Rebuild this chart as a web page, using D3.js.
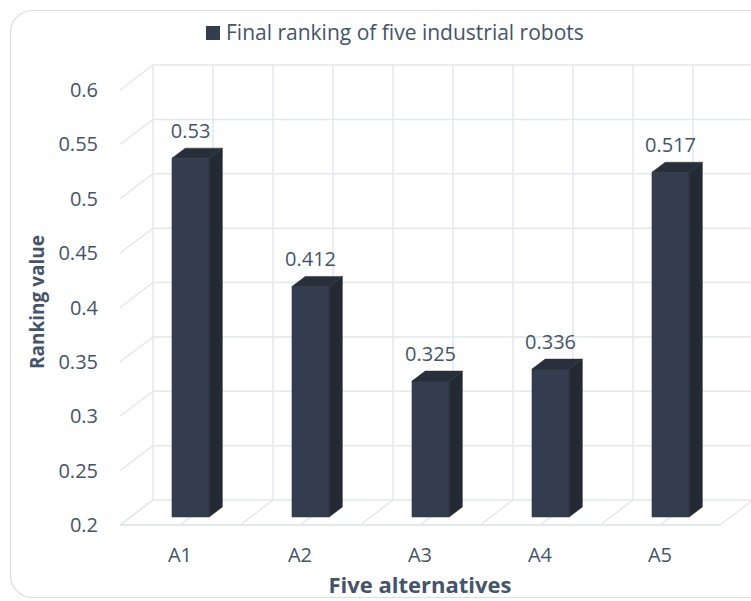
<!DOCTYPE html>
<html>
<head>
<meta charset="utf-8">
<script src="https://cdn.jsdelivr.net/npm/d3@7"></script>
<style>
  body { margin: 0; background: #fff; }
  text { font-family: "Open Sans", sans-serif; fill: #44546a; }
</style>
</head>
<body>
<div id="chart"></div>
<script>
"use strict";

const categories = ["A1", "A2", "A3", "A4", "A5"];
const values = [0.53, 0.412, 0.325, 0.336, 0.517];
const labels = ["0.53", "0.412", "0.325", "0.336", "0.517"];
const yTicks = [0.2, 0.25, 0.3, 0.35, 0.4, 0.45, 0.5, 0.55, 0.6];
const yTickLabels = ["0.2", "0.25", "0.3", "0.35", "0.4", "0.45", "0.5", "0.55", "0.6"];

const W = 751, H = 601;
const svg = d3.select("#chart").append("svg").attr("width", W).attr("height", H);

// outer frame
svg.append("rect").attr("x", 10.5).attr("y", 10.5).attr("width", W + 20).attr("height", 587)
  .attr("rx", 22).attr("fill", "#fff").attr("stroke", "#d9dde3").attr("stroke-width", 1.2);

// front plane scales, depth is added as an offset
const x = d3.scaleBand().domain(categories).range([120, 720]);
const y = d3.scaleLinear().domain([0.2, 0.6]).range([525, 90]);
const DX = 33, DY = -25;
const proj = (px, v, d) => [px + d * DX, y(v) + d * DY];

const grid = "#e4e7eb";
const g = svg.append("g");

// back wall horizontal gridlines + left wall diagonals
yTicks.forEach(t => {
  const a = proj(120, t, 0), b = proj(120, t, 1), c = proj(W + 10, t, 1);
  g.append("path").attr("d", "M" + a + "L" + b + "L" + c)
    .attr("fill", "none").attr("stroke", grid).attr("stroke-width", 1.5);
});

// back wall verticals and floor diagonals every half category
const step = x.bandwidth() / 2;
for (let k = 0; k <= categories.length * 2; k++) {
  const px = x.range()[0] + k * step;
  const top = proj(px, 0.6, 1), bot = proj(px, 0.2, 1), fr = proj(px, 0.2, 0);
  g.append("line").attr("x1", top[0]).attr("y1", top[1]).attr("x2", bot[0]).attr("y2", bot[1])
    .attr("stroke", grid).attr("stroke-width", 1.5);
  g.append("line").attr("x1", fr[0]).attr("y1", fr[1]).attr("x2", bot[0]).attr("y2", bot[1])
    .attr("stroke", grid).attr("stroke-width", 1.5);
}
// front floor edge
g.append("line").attr("x1", 120).attr("y1", y(0.2)).attr("x2", 720).attr("y2", y(0.2))
  .attr("stroke", grid).attr("stroke-width", 2);

// 3D bars
const d0 = 0.32, d1 = 0.72, bw = x.bandwidth() * 0.31;
const bars = svg.append("g");
categories.forEach((c, i) => {
  const cx = x(c) + x.bandwidth() / 2;
  const l = cx - bw / 2, r = cx + bw / 2, v = values[i];
  const poly = pts => pts.map(p => p.join(",")).join(" ");
  // front
  bars.append("polygon").attr("fill", "#333d4f").attr("stroke", "#2b3443").attr("stroke-width", 0.5)
    .attr("points", poly([proj(l, 0.2, d0), proj(r, 0.2, d0), proj(r, v, d0), proj(l, v, d0)]));
  // side
  bars.append("polygon").attr("fill", "#232a34").attr("stroke", "#232a34").attr("stroke-width", 0.5)
    .attr("points", poly([proj(r, 0.2, d0), proj(r, 0.2, d1), proj(r, v, d1), proj(r, v, d0)]));
  // top
  bars.append("polygon").attr("fill", "#282f3b").attr("stroke", "#282f3b").attr("stroke-width", 0.5)
    .attr("points", poly([proj(l, v, d0), proj(r, v, d0), proj(r, v, d1), proj(l, v, d1)]));
  // value label
  const lp = proj(cx, v, d0);
  svg.append("text").attr("x", lp[0]).attr("y", lp[1] - 20).attr("text-anchor", "middle")
    .attr("font-size", 20).text(labels[i]);
});

// y tick labels
yTicks.forEach((t, i) => {
  svg.append("text").attr("x", 98).attr("y", y(t)).attr("dy", "0.35em").attr("text-anchor", "end")
    .attr("font-size", 20).text(yTickLabels[i]);
});

// category labels
categories.forEach(c => {
  svg.append("text").attr("x", x(c) + x.bandwidth() / 2).attr("y", 555).attr("dy", "0.35em")
    .attr("text-anchor", "middle").attr("font-size", 20).text(c);
});

// axis titles
svg.append("text").attr("transform", "translate(37,302) rotate(-90)").attr("text-anchor", "middle")
  .attr("dy", "0.35em").attr("font-size", 19).attr("font-weight", "bold").text("Ranking value");
svg.append("text").attr("x", 420).attr("y", 585).attr("dy", "0.35em").attr("text-anchor", "middle")
  .attr("font-size", 22).attr("font-weight", "bold").text("Five alternatives");

// legend
svg.append("rect").attr("x", 206).attr("y", 26).attr("width", 14).attr("height", 14).attr("fill", "#333d4f");
svg.append("text").attr("x", 226).attr("y", 33).attr("dy", "0.35em").attr("font-size", 21)
  .text("Final ranking of five industrial robots");
</script>
</body>
</html>
